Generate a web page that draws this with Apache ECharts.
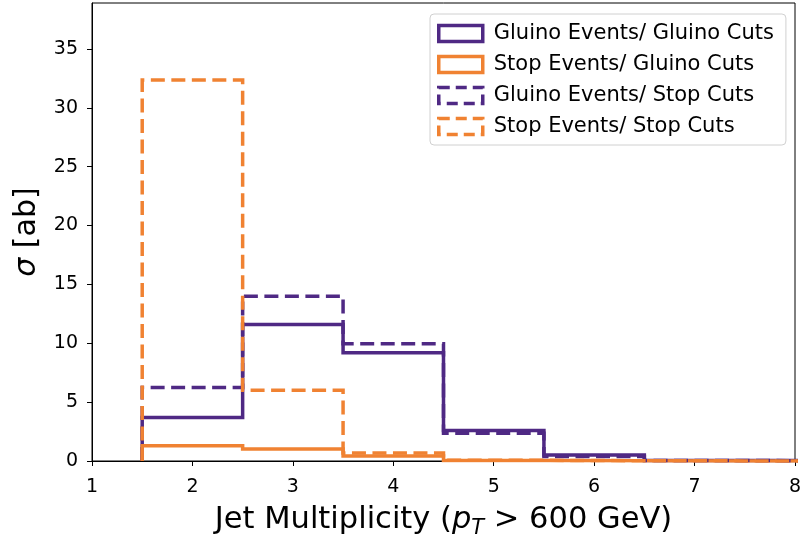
<!DOCTYPE html>
<html>
<head>
<meta charset="utf-8">
<script src="https://cdn.jsdelivr.net/npm/echarts@6/dist/echarts.min.js"></script>
<style>html,body{margin:0;padding:0;background:#fff}#c{width:801px;height:539px}</style>
</head>
<body>
<div id="c"></div>
<script>
// bin edges (jet multiplicity bins centred on integers)
const binEdges = [1.5, 2.5, 3.5, 4.5, 5.5, 6.5, 7.5, 8.5];
const seriesNames = ['Gluino Events/ Gluino Cuts', 'Stop Events/ Gluino Cuts', 'Gluino Events/ Stop Cuts', 'Stop Events/ Stop Cuts'];
const gluinoGluinoCuts = [3.7, 11.6, 9.2, 2.6, 0.5, 0.05, 0.02];
const stopGluinoCuts   = [1.3, 1.02, 0.42, 0.04, 0.02, 0.01, 0.005];
const gluinoStopCuts   = [6.25, 14.0, 9.95, 2.35, 0.38, 0.04, 0.02];
const stopStopCuts     = [32.35, 6.0, 0.68, 0.06, 0.02, 0.01, 0.005];
const xTicks = [1, 2, 3, 4, 5, 6, 7, 8];
const yTicks = [0, 5, 10, 15, 20, 25, 30, 35];

const PURPLE = '#4f2984';
const ORANGE = '#f08232';

function stepOutline(vals) {
  const pts = [[binEdges[0], 0]];
  for (let i = 0; i < vals.length; i++) {
    pts.push([binEdges[i], vals[i]]);
    pts.push([binEdges[i + 1], vals[i]]);
  }
  pts.push([binEdges[vals.length], 0]);
  return pts;
}

const defs = [
  {name: seriesNames[0], data: gluinoGluinoCuts, color: PURPLE, dashed: false},
  {name: seriesNames[1], data: stopGluinoCuts, color: ORANGE, dashed: false},
  {name: seriesNames[2], data: gluinoStopCuts, color: PURPLE, dashed: true},
  {name: seriesNames[3], data: stopStopCuts, color: ORANGE, dashed: true}
];

const chart = echarts.init(document.getElementById('c'), null, {renderer: 'canvas'});
const FONT = 'DejaVu Sans';
chart.setOption({
  animation: false,
  textStyle: {fontFamily: FONT},
  grid: {left: 92, right: 6, top: 3, bottom: 78, show: true, borderColor: '#000', borderWidth: 1,
    containLabel: false, outerBoundsMode: 'none'},
  legend: {
    left: 430, top: 14,
    orient: 'vertical',
    padding: [9, 12, 8, 7],
    itemGap: 10,
    itemWidth: 44,
    itemHeight: 16,
    backgroundColor: '#fff',
    borderColor: '#d0d0d0',
    borderWidth: 1,
    borderRadius: 4,
    textStyle: {fontFamily: FONT, fontSize: 21, color: '#000', padding: [0, 0, 0, 6]},
    data: defs.map(d => ({
      name: d.name,
      icon: 'rect',
      itemStyle: {color: 'rgba(0,0,0,0)', borderColor: d.color, borderWidth: 3.5, borderType: d.dashed ? [11, 6] : 'solid'}
    }))
  },
  xAxis: {
    type: 'value', min: 1, max: 8, interval: 1,
    name: '{n|Jet Multiplicity (}{i|p}{s|T}{n| > 600 GeV)}',
    nameLocation: 'middle', nameGap: 40,
    nameTextStyle: {
      rich: {
        n: {fontFamily: FONT, fontSize: 30.5, color: '#000'},
        i: {fontFamily: FONT, fontSize: 30.5, fontStyle: 'italic', color: '#000'},
        s: {fontFamily: FONT, fontSize: 21, fontStyle: 'italic', color: '#000', verticalAlign: 'bottom', padding: [17, 0, 0, 0]}
      }
    },
    axisLine: {show: true, onZero: false, lineStyle: {color: '#000', width: 1}},
    axisTick: {show: true, length: 5, lineStyle: {color: '#000'}},
    axisLabel: {fontFamily: FONT, fontSize: 19, color: '#000', margin: 17,
      formatter: v => xTicks.includes(v) ? String(v) : ''},
    splitLine: {show: false}
  },
  yAxis: {
    type: 'value', min: 0, max: 38.9, interval: 5,
    name: '{i|σ}{n| [ab]}',
    nameLocation: 'middle', nameGap: 50, nameRotate: 90,
    nameTextStyle: {
      rich: {
        n: {fontFamily: FONT, fontSize: 30, color: '#000'},
        i: {fontFamily: FONT, fontSize: 30, fontStyle: 'italic', color: '#000'}
      }
    },
    axisLine: {show: true, lineStyle: {color: '#000', width: 1}},
    axisTick: {show: true, length: 5, lineStyle: {color: '#000'}},
    axisLabel: {fontFamily: FONT, fontSize: 19, color: '#000', margin: 14, showMaxLabel: false,
      formatter: v => yTicks.includes(v) ? String(v) : ''},
    splitLine: {show: false}
  },
  series: defs.map(d => ({
    name: d.name,
    type: 'line',
    data: stepOutline(d.data),
    showSymbol: false,
    symbol: 'none',
    clip: true,
    color: d.color,
    lineStyle: {color: d.color, width: 3.5, type: d.dashed ? [14, 6.5] : 'solid', cap: 'butt', join: 'miter'},
    emphasis: {disabled: true}
  }))
});
</script>
</body>
</html>
